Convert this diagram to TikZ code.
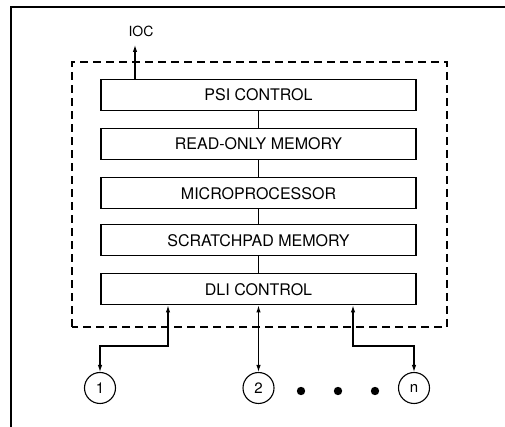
\documentclass[tikz,border=0pt]{standalone}
\usepackage{fontspec}
\setmainfont{TeX Gyre Heros}
\usepackage{tikz}
\usetikzlibrary{arrows.meta,positioning}

\begin{document}
\begin{tikzpicture}[
    x=1pt, y=1pt,
    >={Latex[length=7pt,width=4.5pt]},
    unitbox/.style={
      rectangle,
      draw=black,
      line width=1.1pt,
      minimum width=315pt,
      minimum height=31pt,
      inner sep=0pt,
      font=\fontsize{16}{18}\selectfont
    },
    channel/.style={
      circle,
      draw=black,
      line width=1.1pt,
      minimum size=31pt,
      inner sep=0pt,
      font=\fontsize{15}{17}\selectfont
    },
    link/.style={line width=1.1pt}
  ]

    \useasboundingbox (0,0) rectangle (505,427);

    % Page frame (left and top edges)
    \draw[line width=1.2pt] (11,0) -- (11,420) -- (505,420);

    % Processor boundary
    \draw[line width=1.2pt, dash pattern=on 8pt off 5pt] (72,100) rectangle (447,365);

    % Functional units
    \node[unitbox] (psi) at (258.5,332) {PSI CONTROL};
    \node[unitbox, below=17pt of psi] (rom) {READ-ONLY MEMORY};
    \node[unitbox, below=17pt of rom] (mp) {MICROPROCESSOR};
    \node[unitbox, below=15pt of mp] (sp) {SCRATCHPAD MEMORY};
    \node[unitbox, below=17pt of sp] (dli) {DLI CONTROL};

    % Internal bus
    \draw[link] (psi) -- (rom);
    \draw[link] (rom) -- (mp);
    \draw[link] (mp) -- (sp);
    \draw[link] (sp) -- (dli);

    % IOC output
    \node[font=\fontsize{14}{16}\selectfont] (ioc) at (141,396) {IOC};
    \coordinate (iocend) at (135,382);
    \draw[link, ->] (psi.north -| iocend) -- (iocend);

    % Devices
    \node[channel] (dev1) at (100,39) {1};
    \node[channel] (dev2) at (258.5,39) {2};
    \node[channel] (devn) at (414,39) {n};
    \foreach \x [count=\i] in {301,338,375} {
      \fill (\x,36) circle (4.2) coordinate (dot\i);
    }

    % Device links
    \coordinate (tap1) at (168,81);
    \coordinate (tapn) at (353,81);
    \draw[link, <->] (dli.south -| tap1) -- (tap1) -| (dev1.north);
    \draw[link, <->] (dli.south -| dev2) -- (dev2.north);
    \draw[link, <->] (dli.south -| tapn) -- (tapn) -| (devn.north);

\end{tikzpicture}
\end{document}
